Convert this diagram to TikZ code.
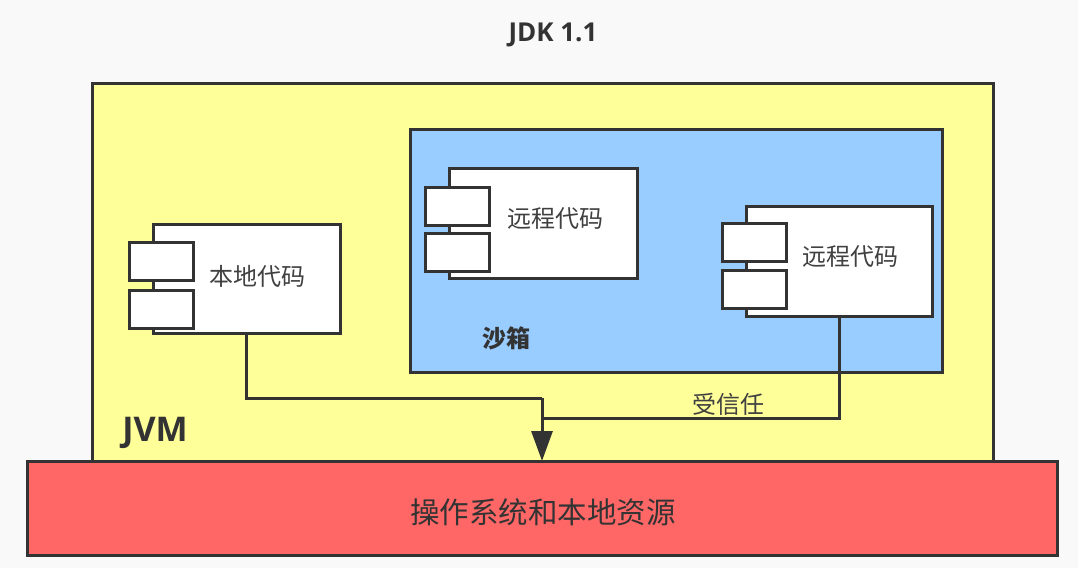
\documentclass[tikz,border=0pt]{standalone}
\usepackage{fontspec}
\setmainfont{Noto Sans CJK SC}
\newfontfamily\latinbold{Open Sans}
\usetikzlibrary{arrows.meta}
\definecolor{bg}{HTML}{F9F9F9}
\definecolor{edge}{HTML}{333333}
\definecolor{jvmfill}{HTML}{FFFF99}
\definecolor{sandfill}{HTML}{99CCFF}
\definecolor{osfill}{HTML}{FF6666}
\definecolor{txt}{HTML}{404040}
\tikzset{
  box/.style={draw=edge, line width=3pt, anchor=north west, inner sep=0pt, outer sep=0pt},
  comp/.style={box, fill=white},
  port/.style={box, fill=white, minimum width=64pt, minimum height=38pt},
  lbl/.style={text=txt, font=\fontsize{24}{28}\selectfont},
  conn/.style={draw=edge, line width=3pt},
}
\begin{document}
\begin{tikzpicture}[x=1pt,y=-1pt]
\fill[bg] (0,0) rectangle (1078,568);
\useasboundingbox (0,0) rectangle (1078,568);
% title
\node[font=\latinbold\bfseries\fontsize{26}{30}\selectfont, text=edge] (title) at (553,35) {JDK 1.1};
% JVM
\node[box, fill=jvmfill, minimum width=901pt, minimum height=390pt] (jvm) at (92,83) {};
\node[font=\latinbold\bfseries\fontsize{34}{38}\selectfont, text=edge] (jvmlbl) at (155,433) {JVM};
% sandbox
\node[box, fill=sandfill, minimum width=532pt, minimum height=243pt] (sand) at (410,129) {};
\node[font=\bfseries\fontsize{24}{28}\selectfont, text=edge] (sandlbl) at (506,338) {沙箱};
% local code
\node[comp, minimum width=187pt, minimum height=109pt] (local) at (153,224) {};
\node[port] (localp1) at (129,242) {};
\node[port] (localp2) at (129,290) {};
\node[lbl] (localtxt) at (257,276) {本地代码};
% remote code 1
\node[comp, minimum width=188pt, minimum height=110pt] (remote1) at (449,168) {};
\node[port] (remote1p1) at (425,187) {};
\node[port] (remote1p2) at (425,233) {};
\node[lbl] (remote1txt) at (555,219) {远程代码};
% remote code 2
\node[comp, minimum width=186pt, minimum height=110pt] (remote2) at (746,206) {};
\node[port] (remote2p1) at (722,223) {};
\node[port] (remote2p2) at (722,270) {};
\node[lbl] (remote2txt) at (850,257) {远程代码};
% OS
\node[box, fill=osfill, minimum width=1030pt, minimum height=94pt] (os) at (27,461) {};
\node[text=edge, font=\fontsize{29.5}{34}\selectfont] (ostxt) at (543,512) {操作系统和本地资源};
% connectors
\coordinate (j1) at (542,398);
\coordinate (j2) at (542,418);
\draw[conn] (local.south) |- (j1);
\draw[conn] (remote2.south) |- (j2);
\draw[conn, -{Triangle[length=30pt,width=21pt]}] (j1) -- (j1 |- os.north);
\node[lbl] (trust) at (728,404) {受信任};
\end{tikzpicture}
\end{document}
